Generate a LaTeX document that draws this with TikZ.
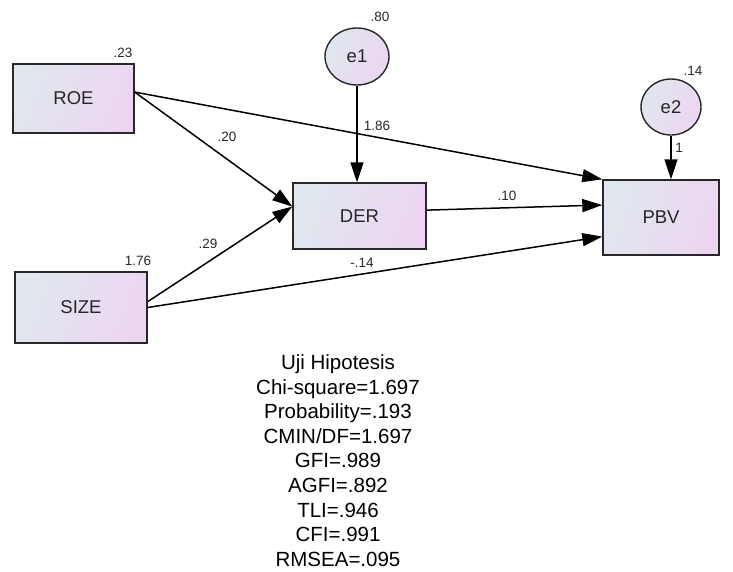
\documentclass[tikz,border=0pt]{standalone}
\usepackage{fontspec}
\setmainfont{Liberation Sans}
\usetikzlibrary{arrows.meta,shapes.geometric}
\definecolor{shadeL}{RGB}{224,231,238}
\definecolor{shadeR}{RGB}{237,213,242}
\definecolor{rim}{RGB}{40,40,40}
\definecolor{inkgrey}{RGB}{40,40,40}
\begin{document}
\begin{tikzpicture}[x=1pt,y=-1pt,
  var/.style={draw=rim, line width=1.4pt, left color=shadeL, right color=shadeR,
    shading angle=70, rectangle, inner sep=0pt, font=\fontsize{18.5}{21}\selectfont, text=black!85},
  err/.style={draw=rim, line width=1.4pt, left color=shadeL, right color=shadeR,
    shading angle=70, ellipse, inner sep=0pt, font=\fontsize{18.5}{21}\selectfont, text=black!85},
  coef/.style={font=\fontsize{13.5}{15}\selectfont, text=inkgrey, inner sep=0pt},
  reg/.style={draw=black, line width=1.5pt, -{Triangle[length=20pt,width=13pt]}},
  fit/.style={font=\fontsize{20.5}{24.6}\selectfont, align=center, inner sep=0pt, text=black}]
\useasboundingbox (0,0) rectangle (733,571);

% observed variables
\node[var, minimum width=121pt, minimum height=69pt] (roe)  at (73.5,98.5)  {ROE};
\node[var, minimum width=132pt, minimum height=71pt] (size) at (81,307.5)   {SIZE};
\node[var, minimum width=133pt, minimum height=66pt] (der)  at (359.5,216)  {DER};
\node[var, minimum width=116pt, minimum height=75pt] (pbv)  at (661,217.5)  {PBV};

% error terms
\node[err, minimum width=64pt, minimum height=57pt] (e1) at (357,56.5) {e1};
\node[err, minimum width=60pt, minimum height=56pt] (e2) at (671,107)  {e2};

% regression paths
\draw[reg] (roe.6) -- (pbv.north west);
\draw[reg] (roe.6) -- (der.172);
\draw[reg] (size.5) -- (der.172);
\draw[reg] (size.east) -- (pbv.198);
\draw[reg] (der.5) -- (pbv.168);
\draw[reg] (e1.south) -- (e1.south |- der.north);
\draw[reg] (e2.south) -- (e2.south |- pbv.north);

% estimates
\node[coef] (vroe)  at (123,53)   {.23};
\node[coef] (vsize) at (138,261)  {1.76};
\node[coef] (ve1)   at (380,17)   {.80};
\node[coef] (ve2)   at (693,71)   {.14};
\node[coef] (wrd)   at (227,137)  {.20};
\node[coef] (wsd)   at (208,244)  {.29};
\node[coef] (wrp)   at (377,126)  {1.86};
\node[coef] (wdp)   at (507,196)  {.10};
\node[coef] (wsp)   at (362,263)  {-.14};
\node[coef] (we2)   at (679,148)  {1};

% fit summary
\node[fit] (summary) at (338,460.5) {Uji Hipotesis\\Chi-square=1.697\\Probability=.193\\CMIN/DF=1.697\\GFI=.989\\AGFI=.892\\TLI=.946\\CFI=.991\\RMSEA=.095};
\end{tikzpicture}
\end{document}
